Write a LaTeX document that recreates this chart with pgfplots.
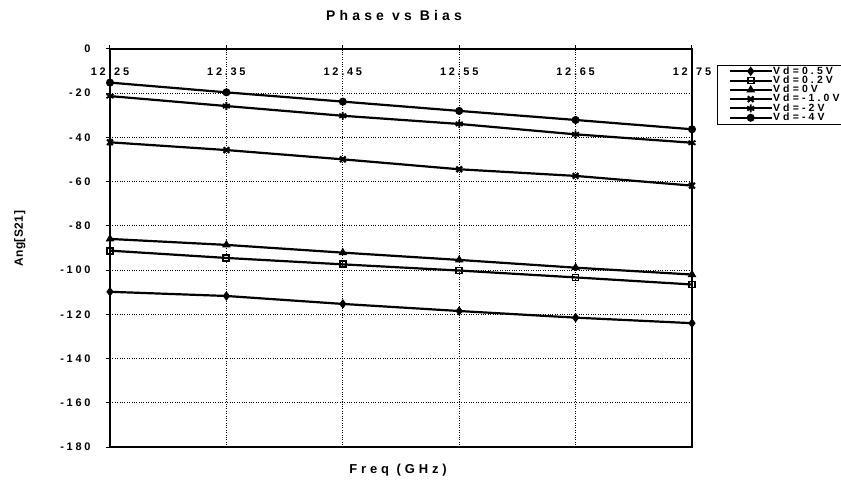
\documentclass[border=0pt]{standalone}
\usepackage{fontspec}
\setmainfont{Liberation Sans}
\newfontfamily\tickfont{Liberation Sans Bold}[LetterSpace=25]
\newfontfamily\titlefont{Liberation Sans Bold}[LetterSpace=30]
\newfontfamily\labfont{Liberation Sans Bold}[LetterSpace=30]
\newfontfamily\ylabfont{Liberation Sans Bold}[LetterSpace=4]
\newfontfamily\legfont{Liberation Sans Bold}[LetterSpace=30]
\usepackage{pgfplots}
\pgfplotsset{compat=1.18}

\pgfplotstableread{
f      m4     m2     m1     z0     p02    p05
12.25  -15.2  -21.3  -42.2  -85.9  -91.2  -109.8
12.35  -19.6  -25.8  -45.7  -88.6  -94.5  -111.7
12.45  -23.8  -30.2  -49.9  -92.1  -97.4  -115.3
12.55  -28.0  -33.9  -54.4  -95.4  -100.2 -118.5
12.65  -32.1  -38.6  -57.4  -98.9  -103.3 -121.5
12.75  -36.3  -42.4  -61.8  -102.0 -106.5 -124.0
}\data

\begin{document}
\begin{tikzpicture}
\path[use as bounding box] (-110bp,-46bp) rectangle (731bp,447bp);
\begin{axis}[
  at={(0,0)}, anchor=south west,
  scale only axis, width=582bp, height=398bp,
  xmin=12.25, xmax=12.75, ymin=-180, ymax=0,
  xtick={12.25,12.35,12.45,12.55,12.65,12.75},
  xticklabels={12.25,12.35,12.45,12.55,12.65,12.75},
  ytick={-180,-160,-140,-120,-100,-80,-60,-40,-20,0},
  yticklabels={-180,-160,-140,-120,-100,-80,-60,-40,-20,0},
  xtick pos=upper, ytick pos=left,
  tick align=outside, major tick length=4bp,
  tick style={black, line width=1bp},
  xticklabel style={anchor=center, yshift=-27bp, font=\tickfont\fontsize{11}{13}\selectfont},
  yticklabel style={anchor=east, xshift=-12bp, font=\tickfont\fontsize{11}{13}\selectfont},
  grid=major,
  major grid style={black, dotted, line width=1bp},
  axis line style={black, line width=2bp},
  every axis title shift=0pt,
  title={Phase vs Bias},
  title style={at={(axis description cs:0.488,1.085)}, anchor=center, font=\titlefont\fontsize{14}{16}\selectfont},
  xlabel={Freq (GHz)},
  every axis x label/.style={at={(axis description cs:0.495,-0.058)}, anchor=center, font=\labfont\fontsize{13}{15}\selectfont},
  ylabel={Ang[S21]},
  every axis y label/.style={at={(axis description cs:-0.155,0.523)}, rotate=90, anchor=center, font=\ylabfont\fontsize{12}{14}\selectfont},
  legend style={at={(axis description cs:1.043,0.96)}, anchor=north west, draw=black,
    row sep=0pt, inner sep=1.5bp,
    nodes={font=\legfont\fontsize{10.5}{11}\selectfont, text height=7bp, text depth=1.5bp, inner sep=0.4bp}},
  legend cell align=left,
  legend image code/.code={\path (0bp,0bp); \draw[mark repeat=2,mark phase=2] plot coordinates {(10bp,0bp) (31bp,0bp) (52bp,0bp)};},
  legend image post style={line width=2bp},
  every axis plot/.append style={black, line width=2.2bp, mark size=3.5bp, mark options={solid, fill=black, line width=1bp}},
]
\addplot[mark=diamond*, mark size=4bp] table[x=f, y=p05] {\data};
\addlegendentry{Vd=0.5V}
\addplot[mark=square, mark size=3bp, mark options={solid, line width=1.8bp}] table[x=f, y=p02] {\data};
\addlegendentry{Vd=0.2V}
\addplot[mark=triangle*, mark size=4bp] table[x=f, y=z0] {\data};
\addlegendentry{Vd=0V}
\addplot[mark=x, mark size=4bp, mark options={solid, line width=2.2bp}] table[x=f, y=m1] {\data};
\addlegendentry{Vd=-1.0V}
\addplot[mark=asterisk, mark size=4bp, mark options={solid, line width=1.8bp}] table[x=f, y=m2] {\data};
\addlegendentry{Vd=-2V}
\addplot[mark=*] table[x=f, y=m4] {\data};
\addlegendentry{Vd=-4V}
\end{axis}
\end{tikzpicture}
\end{document}
